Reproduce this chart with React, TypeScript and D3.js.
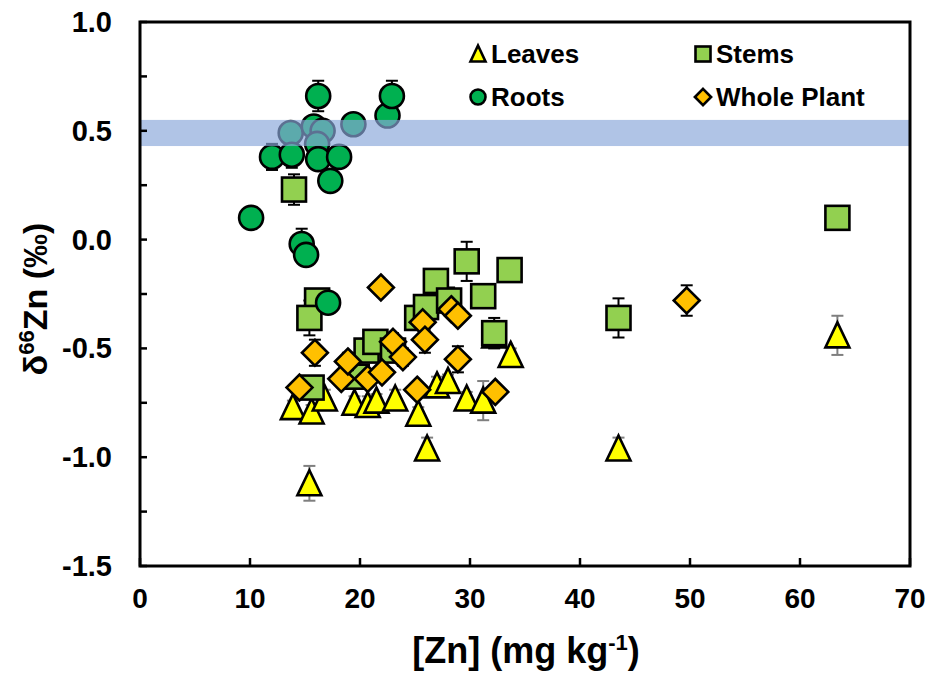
import React from 'react';
import * as d3 from 'd3';

// [Zn] (mg/kg) vs d66Zn (permil)
const leavesX = [13.9, 15.6, 16.8, 15.4, 19.5, 20.7, 21.5, 23.2, 25.3, 26.1, 27.0, 28.0, 29.7, 31.2, 32.2, 33.7, 43.5, 63.4];
const leavesY = [-0.77, -0.79, -0.73, -1.12, -0.75, -0.76, -0.74, -0.73, -0.8, -0.96, -0.67, -0.65, -0.73, -0.74, -0.44, -0.53, -0.96, -0.44];
const leavesErr = [0.03, 0.03, 0.04, 0.08, 0.03, 0.04, 0.03, 0.04, 0.03, 0.05, 0.04, 0.03, 0.03, 0.09, 0.03, 0.03, 0.05, 0.09];

const stemsX = [14.0, 16.1, 15.4, 15.6, 19.7, 20.6, 21.4, 23.0, 25.2, 26.0, 26.9, 28.1, 29.7, 31.2, 32.2, 33.6, 43.5, 63.4];
const stemsY = [0.23, -0.28, -0.36, -0.68, -0.63, -0.51, -0.47, -0.51, -0.36, -0.31, -0.19, -0.28, -0.1, -0.26, -0.43, -0.14, -0.36, 0.1];
const stemsErr = [0.07, 0.03, 0.08, 0.04, 0.03, 0.04, 0.05, 0.04, 0.03, 0.03, 0.04, 0.06, 0.09, 0.02, 0.07, 0.02, 0.09, 0.01];

const rootsX = [10.1, 12.0, 13.7, 13.8, 15.8, 16.2, 16.6, 16.1, 16.2, 17.3, 18.1, 19.4, 22.5, 22.9, 14.7, 15.1, 17.1];
const rootsY = [0.1, 0.38, 0.49, 0.39, 0.52, 0.66, 0.5, 0.44, 0.37, 0.27, 0.38, 0.53, 0.57, 0.66, -0.02, -0.07, -0.29];
const rootsErr = [0.03, 0.06, 0.03, 0.06, 0.03, 0.07, 0.03, 0.03, 0.03, 0.03, 0.03, 0.02, 0.03, 0.07, 0.07, 0.02, 0.02];

const plantX = [14.5, 15.9, 18.3, 18.9, 20.7, 21.9, 22.0, 23.0, 23.9, 25.2, 25.7, 25.9, 28.3, 28.9, 28.9, 32.3, 49.7];
const plantY = [-0.68, -0.52, -0.64, -0.56, -0.64, -0.22, -0.61, -0.47, -0.54, -0.69, -0.38, -0.46, -0.32, -0.35, -0.55, -0.7, -0.28];
const plantErr = [0.03, 0.06, 0.03, 0.04, 0.03, 0.02, 0.03, 0.04, 0.04, 0.03, 0.03, 0.06, 0.03, 0.03, 0.06, 0.03, 0.07];

// reference band for the growth substrate
const bandLow = 0.43;
const bandHigh = 0.55;

const xTicks = [0, 10, 20, 30, 40, 50, 60, 70];
const yTicks = [-1.5, -1.0, -0.5, 0.0, 0.5, 1.0];
const yMinorTicks = [-1.25, -0.75, -0.25, 0.25, 0.75];

const W = 933;
const H = 674;
const plot = { left: 140, right: 910, top: 22, bottom: 566 };

const x = d3.scaleLinear().domain([0, 70]).range([plot.left, plot.right]);
const y = d3.scaleLinear().domain([-1.5, 1]).range([plot.bottom, plot.top]);

const font = "'Liberation Sans', Arial, sans-serif";

type Shape = 'triangle' | 'square' | 'circle' | 'diamond';

const Marker = ({ shape, cx, cy, s, fill }: { shape: Shape; cx: number; cy: number; s: number; fill: string }) => {
  const h = s / 2;
  const common = { fill, stroke: '#000', strokeWidth: 2.6, strokeLinejoin: 'miter' as const };
  if (shape === 'circle') return <circle cx={cx} cy={cy} r={h} {...common} />;
  if (shape === 'square') return <rect x={cx - h} y={cy - h} width={s} height={s} {...common} />;
  if (shape === 'diamond') {
    const d = h * 1.08;
    return <path d={`M${cx},${cy - d}L${cx + d},${cy}L${cx},${cy + d}L${cx - d},${cy}Z`} {...common} />;
  }
  return <path d={`M${cx},${cy - h - 1}L${cx + h},${cy + h}L${cx - h},${cy + h}Z`} {...common} />;
};

const Series = ({ xs, ys, errs, shape, fill, errColor }: { xs: number[]; ys: number[]; errs: number[]; shape: Shape; fill: string; errColor: string }) => (
  <g>
    {xs.map((v, i) => {
      const px = x(v);
      const y1 = y(ys[i] + errs[i]);
      const y2 = y(ys[i] - errs[i]);
      return (
        <g key={'e' + i} stroke={errColor} strokeWidth={2}>
          <line x1={px} x2={px} y1={y1} y2={y2} />
          <line x1={px - 6} x2={px + 6} y1={y1} y2={y1} />
          <line x1={px - 6} x2={px + 6} y1={y2} y2={y2} />
        </g>
      );
    })}
    {xs.map((v, i) => (
      <Marker key={'m' + i} shape={shape} cx={x(v)} cy={y(ys[i])} s={24} fill={fill} />
    ))}
  </g>
);

const legend = [
  { name: 'Leaves', shape: 'triangle' as Shape, fill: '#ffff00', lx: 478, ly: 54 },
  { name: 'Stems', shape: 'square' as Shape, fill: '#92d050', lx: 703, ly: 54 },
  { name: 'Roots', shape: 'circle' as Shape, fill: '#00b050', lx: 478, ly: 97 },
  { name: 'Whole Plant', shape: 'diamond' as Shape, fill: '#ffc000', lx: 703, ly: 97 },
];

export default function App() {
  return (
    <svg width={W} height={H} style={{ position: 'absolute', left: 0, top: 0, background: '#fff' }}>
      <rect width={W} height={H} fill="#fff" />

      <Series xs={leavesX} ys={leavesY} errs={leavesErr} shape="triangle" fill="#ffff00" errColor="#7f7f7f" />
      <Series xs={stemsX} ys={stemsY} errs={stemsErr} shape="square" fill="#92d050" errColor="#000" />
      <Series xs={rootsX} ys={rootsY} errs={rootsErr} shape="circle" fill="#00b050" errColor="#000" />
      <Series xs={plantX} ys={plantY} errs={plantErr} shape="diamond" fill="#ffc000" errColor="#000" />

      <rect
        x={plot.left}
        width={plot.right - plot.left}
        y={y(bandHigh)}
        height={y(bandLow) - y(bandHigh)}
        fill="rgb(137,167,218)"
        fillOpacity={0.67}
      />

      {/* frame and inward ticks */}
      <rect x={plot.left} y={plot.top} width={plot.right - plot.left} height={plot.bottom - plot.top} fill="none" stroke="#000" strokeWidth={3} />
      {yTicks.concat(yMinorTicks).map((t) => (
        <line key={'yt' + t} x1={plot.left} x2={plot.left + 7} y1={y(t)} y2={y(t)} stroke="#000" strokeWidth={2.5} />
      ))}
      {xTicks.map((t) => (
        <line key={'xt' + t} x1={x(t)} x2={x(t)} y1={plot.bottom} y2={plot.bottom - 8} stroke="#000" strokeWidth={2.5} />
      ))}

      {yTicks.map((t) => (
        <text key={'yl' + t} x={112} y={y(t) + 10} textAnchor="end" fontFamily={font} fontWeight="bold" fontSize={29}>
          {t.toFixed(1)}
        </text>
      ))}
      {xTicks.map((t) => (
        <text key={'xl' + t} x={x(t)} y={608} textAnchor="middle" fontFamily={font} fontWeight="bold" fontSize={28}>
          {t}
        </text>
      ))}

      <text x={526} y={663} textAnchor="middle" fontFamily={font} fontWeight="bold" fontSize={36}>
        [Zn] (mg kg<tspan dy={-13} fontSize={22}>-1</tspan>
        <tspan dy={13}>)</tspan>
      </text>
      <text transform="translate(47,299) rotate(-90)" textAnchor="middle" fontFamily={font} fontWeight="bold" fontSize={34}>
        δ<tspan dy={-13} fontSize={22}>66</tspan>
        <tspan dy={13}>Zn (‰)</tspan>
      </text>

      {legend.map((d) => (
        <g key={d.name}>
          <Marker shape={d.shape} cx={d.lx} cy={d.ly} s={15} fill={d.fill} />
          <text x={d.lx + 13} y={d.ly + 9} fontFamily={font} fontWeight="bold" fontSize={26}>
            {d.name}
          </text>
        </g>
      ))}
    </svg>
  );
}
